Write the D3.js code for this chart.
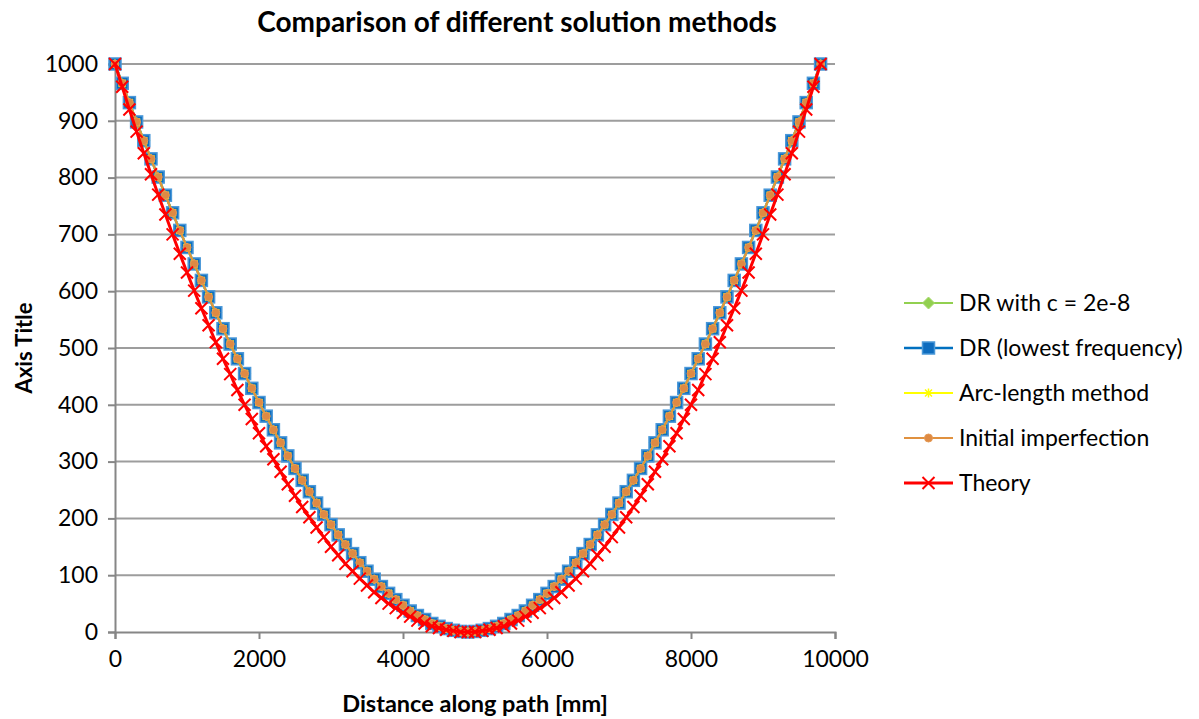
<!DOCTYPE html>
<html>
<head>
<meta charset="utf-8">
<script src="https://cdn.jsdelivr.net/npm/d3@7/dist/d3.min.js"></script>
<style>
  body { margin: 0; background: #fff; }
  svg text { font-family: Lato, "Open Sans", sans-serif; fill: #000; }
</style>
</head>
<body>
<svg id="chart" width="1199" height="719"></svg>
<script>
// distance along path [mm] - same stations for every series
const distance = [
  0, 100, 200, 300, 400, 500, 600, 700, 800, 900,
  1000, 1100, 1200, 1300, 1400, 1500, 1600, 1700, 1800, 1900,
  2000, 2100, 2200, 2300, 2400, 2500, 2600, 2700, 2800, 2900,
  3000, 3100, 3200, 3300, 3400, 3500, 3600, 3700, 3800, 3900,
  4000, 4100, 4200, 4300, 4400, 4500, 4600, 4700, 4800, 4900,
  5000, 5100, 5200, 5300, 5400, 5500, 5600, 5700, 5800, 5900,
  6000, 6100, 6200, 6300, 6400, 6500, 6600, 6700, 6800, 6900,
  7000, 7100, 7200, 7300, 7400, 7500, 7600, 7700, 7800, 7900,
  8000, 8100, 8200, 8300, 8400, 8500, 8600, 8700, 8800, 8900,
  9000, 9100, 9200, 9300, 9400, 9500, 9600, 9700, 9800
];

// DR (lowest frequency) - the other three numerical series sit on top of it
const drLowestY = [
  1000, 966, 932, 898, 865, 833, 801, 769, 738, 707,
  677, 648, 619, 590, 562, 534, 507, 481, 455, 429,
  404, 380, 356, 333, 310, 288, 267, 247, 227, 207,
  189, 171, 154, 138, 122, 107, 93, 80, 68, 57,
  47, 37, 29, 22, 15, 10, 6, 3, 1, 0,
  1, 3, 6, 10, 15, 22, 29, 37, 47, 57,
  68, 80, 93, 107, 122, 138, 154, 171, 189, 207,
  227, 247, 267, 288, 310, 333, 356, 380, 404, 429,
  455, 481, 507, 534, 562, 590, 619, 648, 677, 707,
  738, 769, 801, 833, 865, 898, 932, 966, 1000
];
const drDampedY = drLowestY;
const arcLengthY = drLowestY;
const imperfectionY = drLowestY;

const theoryY = [
  1000, 960, 920, 881, 843, 806, 770, 735, 700, 666,
  633, 601, 570, 540, 510, 481, 454, 426, 400, 375,
  350, 327, 304, 282, 260, 240, 220, 202, 184, 167,
  150, 135, 120, 107, 94, 82, 70, 60, 50, 42,
  34, 27, 20, 15, 10, 7, 4, 2, 0, 0,
  0, 2, 4, 7, 10, 15, 20, 27, 34, 42,
  50, 60, 70, 82, 94, 107, 120, 135, 150, 167,
  184, 202, 220, 240, 260, 282, 304, 327, 350, 375,
  400, 426, 454, 481, 510, 540, 570, 601, 633, 666,
  700, 735, 770, 806, 843, 881, 920, 960, 1000
];

const seriesNames = ["DR with c = 2e-8", "DR (lowest frequency)", "Arc-length method", "Initial imperfection", "Theory"];
const xTicks = [0, 2000, 4000, 6000, 8000, 10000];
const yTicks = [0, 100, 200, 300, 400, 500, 600, 700, 800, 900, 1000];

const series = [
  { name: seriesNames[0], y: drDampedY, color: "#92D050", marker: "diamond", width: 2 },
  { name: seriesNames[1], y: drLowestY, color: "#0070C0", marker: "square", width: 2.5 },
  { name: seriesNames[2], y: arcLengthY, color: "#FFFF00", marker: "star", width: 2 },
  { name: seriesNames[3], y: imperfectionY, color: "#E0913F", marker: "circle", width: 2 },
  { name: seriesNames[4], y: theoryY, color: "#FF0000", marker: "cross", width: 3 }
];

const plotLeft = 115, plotRight = 835, plotTop = 64, plotBottom = 632;
const svg = d3.select("#chart");
svg.append("rect").attr("width", 1199).attr("height", 719).attr("fill", "#fff");

const x = d3.scaleLinear().domain([0, 10000]).range([plotLeft, plotRight]);
const y = d3.scaleLinear().domain([0, 1000]).range([plotBottom, plotTop]);

// gridlines
svg.append("g")
  .selectAll("line")
  .data(yTicks.filter(d => d > 0))
  .join("line")
  .attr("x1", plotLeft).attr("x2", plotRight)
  .attr("y1", d => y(d)).attr("y2", d => y(d))
  .attr("stroke", "#9D9D9D")
  .attr("stroke-width", 2);

const xAxis = svg.append("g")
  .attr("transform", "translate(0," + plotBottom + ")")
  .call(d3.axisBottom(x).tickValues(xTicks).tickFormat(d3.format("d")).tickSizeOuter(0).tickSize(7).tickPadding(12));
const yAxis = svg.append("g")
  .attr("transform", "translate(" + plotLeft + ",0)")
  .call(d3.axisLeft(y).tickValues(yTicks).tickFormat(d3.format("d")).tickSizeOuter(0).tickSize(7).tickPadding(10));

[xAxis, yAxis].forEach(a => {
  a.select(".domain").attr("stroke", "#868686").attr("stroke-width", 2);
  a.selectAll(".tick line").attr("stroke", "#868686").attr("stroke-width", 2);
  a.selectAll(".tick text").attr("font-size", 23).attr("font-family", "Lato, sans-serif").attr("fill", "#000");
});

// marker shapes
function drawMarker(g, type, color) {
  if (type === "diamond") {
    g.append("path").attr("d", "M0,-6L6,0L0,6L-6,0Z").attr("fill", color).attr("stroke", "#A8DA6E").attr("stroke-width", 1);
  } else if (type === "square") {
    g.append("rect").attr("x", -6).attr("y", -6).attr("width", 12).attr("height", 12)
      .attr("fill", "#0E6CBE").attr("stroke", "#4A98D8").attr("stroke-width", 1.5);
  } else if (type === "star") {
    g.append("path").attr("d", "M-3.5,-3.5L3.5,3.5M-3.5,3.5L3.5,-3.5M0,-4.5L0,4.5")
      .attr("stroke", color).attr("stroke-width", 1.5).attr("fill", "none");
  } else if (type === "circle") {
    g.append("circle").attr("r", 4).attr("fill", "#DE8A43").attr("stroke", "#E59A55").attr("stroke-width", 1);
  } else if (type === "cross") {
    g.append("path").attr("d", "M-6,-6L6,6M-6,6L6,-6")
      .attr("stroke", color).attr("stroke-width", 2).attr("fill", "none");
  }
}

const line = d3.line().x(d => x(d[0])).y(d => y(d[1]));

series.forEach(s => {
  const pts = distance.map((d, i) => [d, s.y[i]]);
  const g = svg.append("g");
  g.append("path")
    .datum(pts)
    .attr("d", line)
    .attr("fill", "none")
    .attr("stroke", s.color)
    .attr("stroke-width", s.width)
    .attr("stroke-linejoin", "round");
  g.selectAll("g.m")
    .data(pts)
    .join("g")
    .attr("class", "m")
    .attr("transform", d => "translate(" + x(d[0]) + "," + y(d[1]) + ")")
    .each(function () { drawMarker(d3.select(this), s.marker, s.color); });
});

// title and axis titles
svg.append("text")
  .attr("x", 517).attr("y", 32)
  .attr("text-anchor", "middle")
  .attr("font-size", 28).attr("font-weight", "bold")
  .text("Comparison of different solution methods");

svg.append("text")
  .attr("x", 475).attr("y", 712)
  .attr("text-anchor", "middle")
  .attr("font-size", 23.5).attr("font-weight", "bold")
  .text("Distance along path [mm]");

svg.append("text")
  .attr("transform", "translate(32,348) rotate(-90)")
  .attr("text-anchor", "middle")
  .attr("font-size", 22).attr("font-weight", "bold")
  .text("Axis Title");

// legend
const legend = svg.append("g");
series.forEach((s, i) => {
  const ly = 303 + i * 45;
  const g = legend.append("g").attr("transform", "translate(0," + ly + ")");
  g.append("line").attr("x1", 904).attr("x2", 953).attr("y1", 0).attr("y2", 0)
    .attr("stroke", s.color).attr("stroke-width", s.width);
  drawMarker(g.append("g").attr("transform", "translate(928.5,0)"), s.marker, s.color);
  g.append("text").attr("x", 959).attr("y", 0).attr("dy", "0.35em")
    .attr("font-size", 23)
    .text(s.name);
});
</script>
</body>
</html>
